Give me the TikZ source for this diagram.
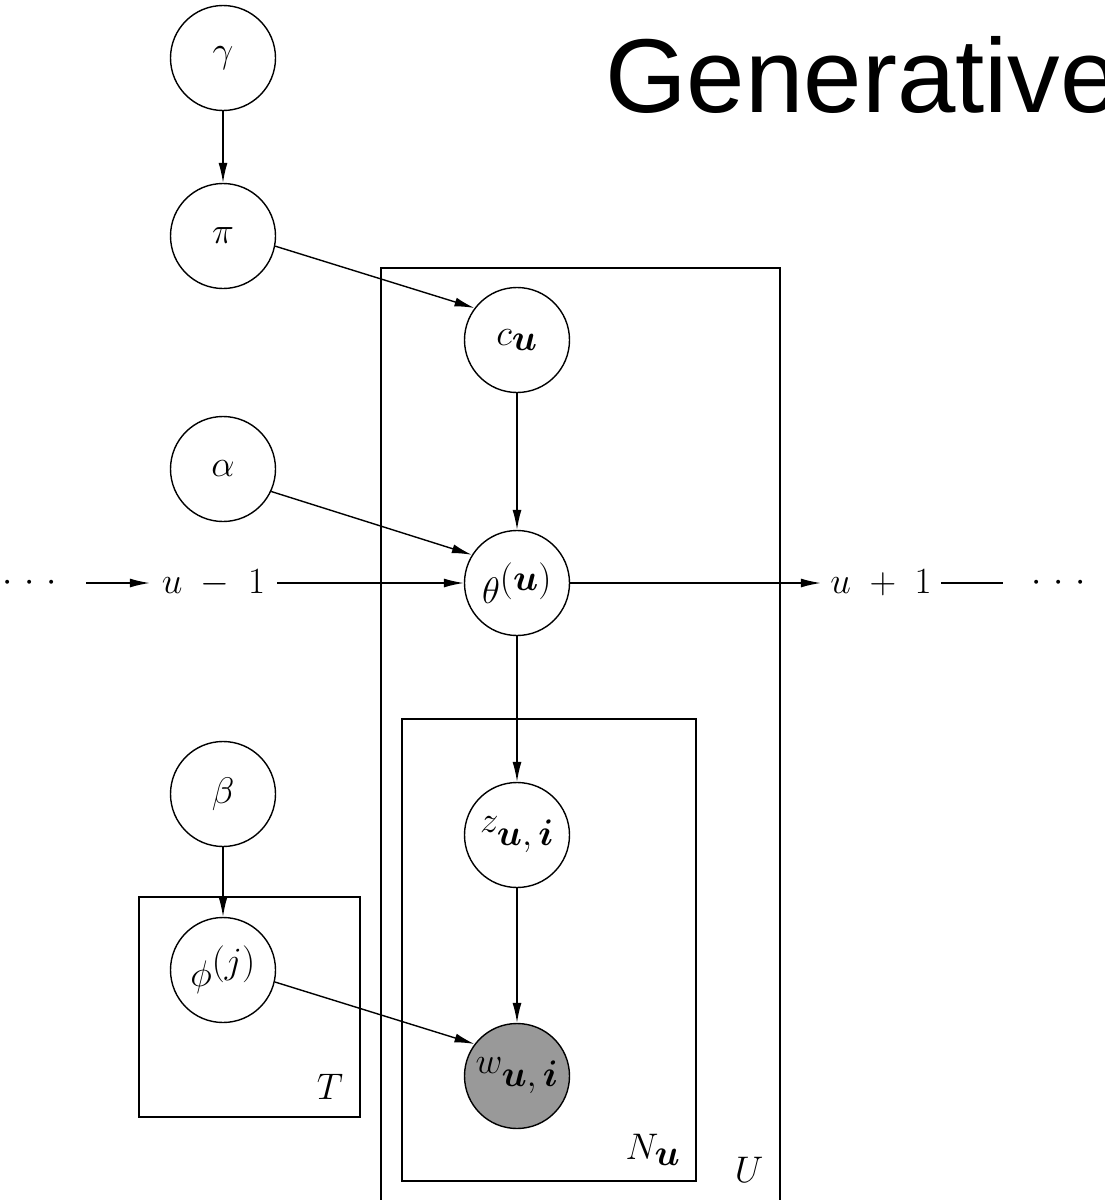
\RequirePackage{fix-cm}
\documentclass[tikz,border=0pt]{standalone}
\usepackage{bm}
\usepackage{fontspec}
\newfontfamily\arialfont{Liberation Sans}
\usetikzlibrary{arrows.meta}
\begin{document}
\begin{tikzpicture}[x=1pt,y=-1pt,
  every node/.style={font=\fontsize{37}{42}\selectfont},
  rv/.style={draw,circle,line width=1.4pt,minimum size=105pt,inner sep=0pt,fill=white},
  obs/.style={rv,fill={rgb,255:red,153;green,153;blue,153}},
  plate/.style={draw,line width=1.4pt},
  edge/.style={line width=1.4pt,-{Latex[length=20pt,width=9pt]}},
  plain/.style={line width=1.4pt},
  lbl/.style={inner sep=0pt}]
\useasboundingbox (0,0) rectangle (1105,1200);
\clip (0,0) rectangle (1105,1200);
\fill[white] (0,0) rectangle (1105,1200);
% title
\node[anchor=base west,inner sep=0pt,font=\arialfont\fontsize{105}{120}\selectfont] (title) at (605,112) {Generative};
% plates
\draw[plate] (381,268) rectangle (780,1215);
\draw[plate] (402,719) rectangle (696,1181);
\draw[plate] (139,897) rectangle (360,1117);
\node[lbl] (Ulbl) at (749,1170) {$U$};
\node[lbl] (Nlbl) at (653,1150) {$N_{\textstyle\bm{u}}$};
\node[lbl] (Tlbl) at (330,1087) {$T$};
% nodes
\node[rv] (gamma) at (223,58) {$\gamma$};
\node[rv] (pi) at (223,236) {$\pi$};
\node[rv] (cu) at (517,340) {$c_{\textstyle\bm{u}}$};
\node[rv] (alpha) at (223,469) {$\alpha$};
\node[rv] (theta) at (517,583) {$\theta^{\textstyle(\bm{u})}$};
\node[rv] (beta) at (223,794) {$\beta$};
\node[rv] (z) at (517,835) {$z_{\textstyle\bm{u},\bm{i}}$};
\node[rv] (phi) at (223,970) {$\phi^{\textstyle(j)}$};
\node[obs] (w) at (517,1076) {$w_{\textstyle\bm{u},\bm{i}}$};
% chain labels
\node[inner xsep=29pt,inner ysep=0pt] (dotsL) at (30,583) {${\cdot}\hspace{11.7pt}{\cdot}\hspace{11.7pt}{\cdot}$};
\node[inner sep=0pt,minimum width=127pt] (lm1) at (213.5,583) {$u\;-\;1$};
\node[inner sep=0pt,minimum width=120pt] (lp1) at (881,583) {$u\;+\;1$};
\node[inner xsep=29pt,inner ysep=0pt] (dotsR) at (1059,583) {${\cdot}\hspace{11.7pt}{\cdot}\hspace{11.7pt}{\cdot}$};
% edges
\draw[edge] (gamma) -- (pi);
\draw[edge] (pi.-11) -- (cu.143);
\draw[edge] (cu) -- (theta);
\draw[edge] (alpha.-25) -- (theta.148);
\draw[edge] (theta) -- (z);
\draw[edge] (z) -- (w);
\draw[edge] (beta) -- (phi);
\draw[edge] (phi.-13) -- (w.143);
\draw[edge] (dotsL) -- (lm1);
\draw[edge] (lm1) -- (theta);
\draw[edge] (theta) -- (lp1);
\draw[plain] (lp1) -- (dotsR);
\end{tikzpicture}
\end{document}
